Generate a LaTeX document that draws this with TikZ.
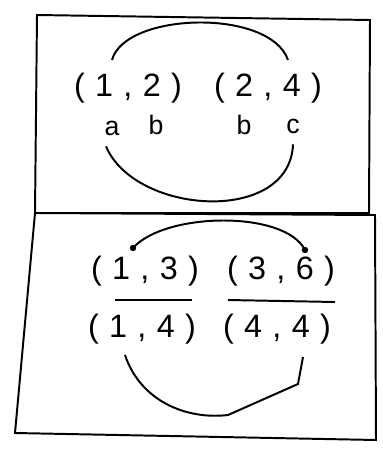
\documentclass[tikz,border=0pt]{standalone}
\usepackage{fontspec}
\setmainfont{Liberation Sans}
\usetikzlibrary{calc}
\begin{document}
\begin{tikzpicture}[x=0.05cm, y=-0.05cm, line width=2.8pt,
    pair/.style={inner sep=0pt, font=\fontsize{46}{50}\selectfont\addfontfeatures{LetterSpace=32}},
    letter/.style={inner sep=0pt, font=\fontsize{38}{42}\selectfont}]
                \useasboundingbox (0,0) rectangle (382,451);
                % Top Box
                \draw (37,15) -- (370,20) -- (369,213) -- (35,213) -- cycle;
                \node[pair] (p12) at (128,88) {(1,2)};
                \node[pair] (p24) at (268,88) {(2,4)};
                \node[letter] (a) at (112,128) {a};
                \node[letter] (b1) at (156,125) {b};
                \node[letter] (b2) at (244,125) {b};
                \node[letter] (c) at (293,126) {c};
                \coordinate (tl) at (112,60);
                \coordinate (tr) at (288,60);
                \draw (tl) .. controls (125,12) and (270,8) .. (tr);
                \draw ($(a.south)+(-6,10)$) .. controls (135,215) and (290,225) .. ($(c.south)+(0,10)$);

                % Bottom Box
                \draw (35,213) -- (375,215) -- (376,440) -- (15,433) -- cycle;
                \node[pair] (p13) at (145,271) {(1,3)};
                \node[pair] (p36) at (281,271) {(3,6)};
                \node[pair] (p14) at (142,329) {(1,4)};
                \node[pair] (p44) at (277,329) {(4,4)};
                \draw (115,300) -- (192,300);
                \draw (228,300) -- (335,302);
                \coordinate (dl) at (133,248);
                \coordinate (dr) at (305,250);
                \fill (dl) circle (3.2);
                \fill (dr) circle (3.2);
                \draw (dl) .. controls (165,212) and (285,210) .. (dr);
                \draw (125,355) .. controls (140,400) and (185,420) .. (228,415) -- (298,384) -- (303,357);
            \end{tikzpicture}
\end{document}
